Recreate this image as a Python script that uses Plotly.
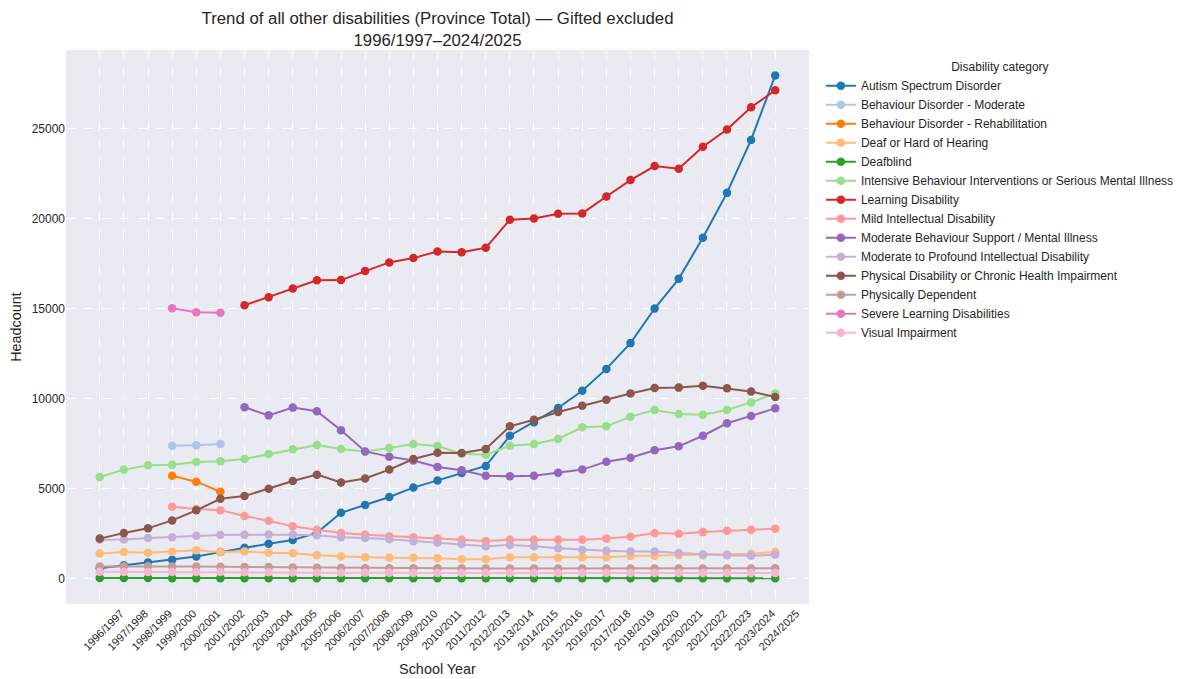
import plotly.graph_objects as go

years = ["1996/1997", "1997/1998", "1998/1999", "1999/2000", "2000/2001", "2001/2002",
         "2002/2003", "2003/2004", "2004/2005", "2005/2006", "2006/2007", "2007/2008",
         "2008/2009", "2009/2010", "2010/2011", "2011/2012", "2012/2013", "2013/2014",
         "2014/2015", "2015/2016", "2016/2017", "2017/2018", "2018/2019", "2019/2020",
         "2020/2021", "2021/2022", "2022/2023", "2023/2024", "2024/2025"]

N = None
autism = [590, 750, 910, 1060, 1240, 1480, 1720, 1950, 2150, 2550, 3660, 4100, 4540, 5060, 5450,
          5870, 6260, 7940, 8690, 9480, 10440, 11650, 13080, 15000, 16650, 18930, 21420, 24360, 27940]
beh_moderate = [N, N, N, 7390, 7410, 7480] + [N] * 23
beh_rehab = [N, N, N, 5720, 5390, 4830] + [N] * 23
deaf = [1400, 1480, 1440, 1500, 1580, 1480, 1520, 1440, 1420, 1310, 1240, 1200, 1170, 1170, 1140,
        1090, 1090, 1190, 1200, 1170, 1190, 1200, 1260, 1280, 1310, 1310, 1350, 1390, 1480]
deafblind = [40, 40, 40, 35, 35, 35, 35, 35, 35, 35, 35, 35, 35, 35, 35,
             35, 35, 35, 35, 35, 35, 35, 35, 35, 35, 35, 35, 35, 35]
intensive = [5650, 6060, 6300, 6330, 6480, 6520, 6650, 6920, 7190, 7430, 7200, 7070, 7260, 7480, 7370,
             6940, 6890, 7390, 7480, 7760, 8410, 8460, 9000, 9370, 9150, 9110, 9370, 9790, 10280]
learning = [N, N, N, N, N, N, 15180, 15630, 16110, 16570, 16580, 17090, 17560, 17800, 18170,
            18130, 18370, 19930, 20000, 20260, 20280, 21220, 22130, 22910, 22760, 23980, 24940, 26170, 27110]
mild_id = [N, N, N, 4000, 3870, 3810, 3480, 3220, 2910, 2720, 2540, 2440, 2350, 2300, 2230,
           2170, 2090, 2170, 2170, 2170, 2170, 2240, 2330, 2540, 2500, 2590, 2670, 2720, 2780]
mod_beh = [N, N, N, N, N, N, 9520, 9070, 9500, 9300, 8240, 7070, 6780, 6560, 6210,
           6020, 5720, 5690, 5720, 5890, 6060, 6500, 6720, 7130, 7350, 7940, 8630, 9040, 9460]
mod_prof_id = [2170, 2180, 2260, 2310, 2390, 2430, 2440, 2460, 2440, 2410, 2310, 2260, 2200, 2090, 2010,
               1930, 1810, 1870, 1810, 1700, 1610, 1560, 1520, 1520, 1430, 1350, 1310, 1280, 1330]
physical = [2230, 2540, 2800, 3240, 3800, 4440, 4590, 5000, 5430, 5780, 5350, 5570, 6060, 6650, 7000,
            6980, 7200, 8460, 8830, 9260, 9610, 9940, 10280, 10590, 10610, 10720, 10570, 10390, 10090]
phys_dep = [680, 690, 690, 680, 680, 670, 660, 650, 620, 610, 600, 590, 590, 580, 580,
            575, 575, 575, 575, 575, 575, 575, 575, 575, 575, 575, 575, 575, 580]
severe_ld = [N, N, N, 15020, 14800, 14760] + [N] * 23
visual = [390, 380, 380, 380, 370, 370, 360, 360, 350, 340, 340, 330, 330, 320, 320,
          315, 315, 315, 315, 315, 315, 315, 315, 315, 315, 315, 315, 315, 315]

series = [
    ("Autism Spectrum Disorder", autism, "#1f77b4"),
    ("Behaviour Disorder - Moderate", beh_moderate, "#aec7e8"),
    ("Behaviour Disorder - Rehabilitation", beh_rehab, "#ff7f0e"),
    ("Deaf or Hard of Hearing", deaf, "#ffbb78"),
    ("Deafblind", deafblind, "#2ca02c"),
    ("Intensive Behaviour Interventions or Serious Mental Illness", intensive, "#98df8a"),
    ("Learning Disability", learning, "#d62728"),
    ("Mild Intellectual Disability", mild_id, "#ff9896"),
    ("Moderate Behaviour Support / Mental Illness", mod_beh, "#9467bd"),
    ("Moderate to Profound Intellectual Disability", mod_prof_id, "#c5b0d5"),
    ("Physical Disability or Chronic Health Impairment", physical, "#8c564b"),
    ("Physically Dependent", phys_dep, "#c49c94"),
    ("Severe Learning Disabilities", severe_ld, "#e377c2"),
    ("Visual Impairment", visual, "#f7b6d2"),
]

fig = go.Figure()
for name, vals, color in series:
    fig.add_trace(go.Scatter(
        x=list(range(len(years))), y=vals, name=name, mode="lines+markers",
        line=dict(color=color, width=2), marker=dict(color=color, size=8.5),
        connectgaps=False,
    ))

# page body has an 8px margin, so the figure is 8px smaller than the window
W, H = 1180, 671
fig.update_layout(
    width=W, height=H,
    paper_bgcolor="white", plot_bgcolor="#EAEAF2",
    font=dict(family="Liberation Sans, Arial, sans-serif", color="#262626", size=12),
    margin=dict(l=58, r=379, t=42, b=75, autoexpand=False),
    title=dict(text="Trend of all other disabilities (Province Total) — Gifted excluded<br>1996/1997–2024/2025",
               x=429.5 / W, xanchor="center", y=0.976, yanchor="top",
               font=dict(size=16.8, color="#262626")),
    legend=dict(title=dict(text="Disability category", side="top center", font=dict(size=12)),
                x=1.016, xanchor="left", y=0.99, yanchor="top",
                font=dict(size=12), bgcolor="rgba(255,255,255,0)", tracegroupgap=0),
    showlegend=True,
)
fig.update_xaxes(
    tickmode="array", tickvals=list(range(len(years))), ticktext=years, tickangle=-45,
    ticklabelshift=21,
    range=[-1.4, 29.4], showgrid=True, gridcolor="rgba(255,255,255,0.9)", griddash="dash",
    zeroline=False, showline=False, ticks="", tickfont=dict(size=11), automargin=False,
    title=dict(text="School Year", font=dict(size=14.4), standoff=12),
)
fig.update_yaxes(
    range=[-1400, 29350], tickvals=[0, 5000, 10000, 15000, 20000, 25000], tickformat="d",
    showgrid=True, gridcolor="rgba(255,255,255,0.9)", griddash="dash",
    zeroline=False, showline=False, ticks="", tickfont=dict(size=12), automargin=False,
    title=dict(text="Headcount", font=dict(size=14.4), standoff=8),
)

fig.write_html("out.html")
